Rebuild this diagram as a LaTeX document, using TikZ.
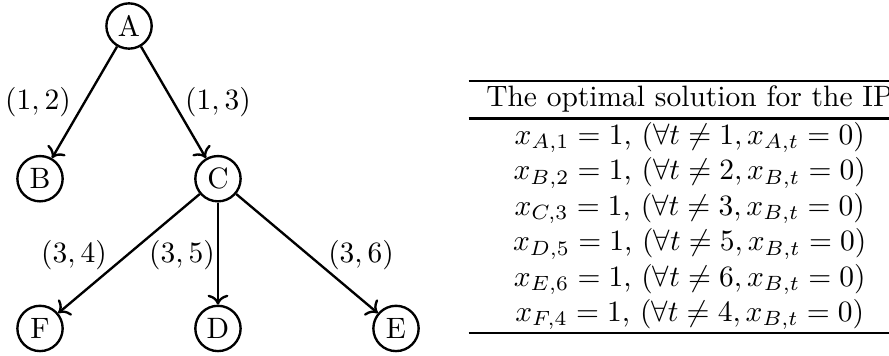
\documentclass[tikz,border=0pt]{standalone}
\usepackage{amsmath,amssymb}
\usepackage{xcolor}
\usepackage{tikz}
\usetikzlibrary{arrows.meta}

\begin{document}
\begin{tikzpicture}[vertex/.style={circle, draw, thick, minimum size=0.54cm, inner sep=0pt},
    arc/.style={->, thick}]
      % scale: 1 cm = 28.45 pt, page 10.6 cm x 4.24 cm
      \useasboundingbox (0,0) rectangle (10.596,-4.243);
      \node[vertex] (A) at (1.538,-0.310) {A};
      \node[vertex] (B) at (0.477,-2.130) {B};
      \node[vertex] (C) at (2.598,-2.130) {C};
      \node[vertex] (F) at (0.477,-3.915) {F};
      \node[vertex] (D) at (2.598,-3.915) {D};
      \node[vertex] (E) at (4.720,-3.915) {E};
      \draw[arc] (A) -- (B);
      \draw[arc] (A) -- (C);
      \draw[arc] (C) -- (F);
      \draw[arc] (C) -- (D);
      \draw[arc] (C) -- (E);
      \node (l12) at (0.453,-1.216) {$(1,2)$};
      \node (l13) at (2.598,-1.216) {$(1,3)$};
      \node (l34) at (0.882,-3.039) {$(3,4)$};
      \node (l35) at (2.169,-3.039) {$(3,5)$};
      \node (l36) at (4.303,-3.045) {$(3,6)$};
      % table, right side runs to the page edge
      \node[anchor=north west, inner sep=0pt] (ip) at (5.578,-0.942) {%
        \setlength{\arrayrulewidth}{0.8pt}%
        \begin{tabular}{c}
          \hline
          The optimal solution for the IP\\
          \hline
          $x_{A,1} = 1$, $(\forall t \neq 1, x_{A,t} = 0)$\\
          $x_{B,2} = 1$, $(\forall t \neq 2, x_{B,t} = 0)$\\
          $x_{C,3} = 1$, $(\forall t \neq 3, x_{B,t} = 0)$\\
          $x_{D,5} = 1$, $(\forall t \neq 5, x_{B,t} = 0)$\\
          $x_{E,6} = 1$, $(\forall t \neq 6, x_{B,t} = 0)$\\
          $x_{F,4} = 1$, $(\forall t \neq 4, x_{B,t} = 0)$\\
          \hline
        \end{tabular}};
    \end{tikzpicture}
\end{document}
